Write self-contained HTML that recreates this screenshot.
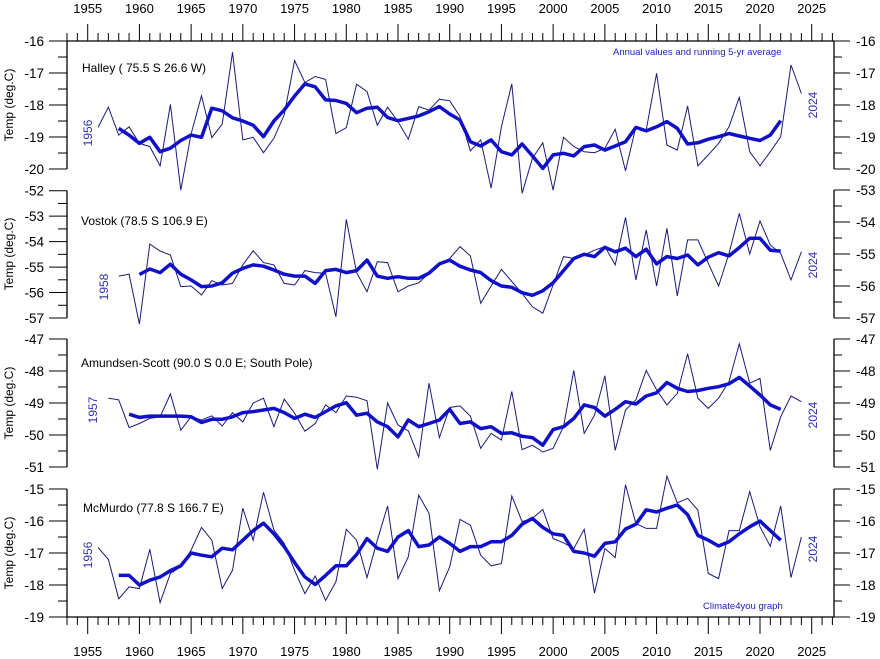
<!DOCTYPE html>
<html><head><meta charset="utf-8">
<style>
html,body{margin:0;padding:0;background:#fff;}
svg{display:block;font-family:"Liberation Sans",Arial,sans-serif;}
</style></head>
<body>
<svg id="chart" width="880" height="659" viewBox="0 0 880 659" xmlns="http://www.w3.org/2000/svg">
<rect x="0" y="0" width="880" height="659" fill="#fff"/>
<g id="axes"></g>
<g id="series"></g>
<text x="613" y="55" font-size="9.5" fill="#2020c0">Annual values and running 5-yr average</text>
<text x="703" y="609" font-size="9.5" fill="#2020c0">Climate4you graph</text>
</svg>
<script>
// ---- data ----
const halleyStart = 1956;
const halleyAnnual = [-18.7,-18.07,-18.94,-18.68,-19.2,-19.3,-19.9,-17.98,-20.66,-18.9,-17.71,-19.02,-18.6,-16.35,-19.09,-19.01,-19.49,-19.04,-18.31,-16.61,-17.3,-17.11,-17.2,-18.89,-18.71,-17.35,-17.58,-18.63,-18.07,-18.52,-19.07,-18.05,-18.16,-17.82,-17.87,-18.36,-19.43,-19.09,-20.6,-18.68,-17.34,-20.76,-19.67,-19.18,-20.66,-19.01,-19.3,-19.46,-19.49,-19.35,-18.76,-20.06,-18.68,-18.78,-17.01,-19.25,-19.41,-18.03,-19.9,-19.56,-19.2,-18.68,-17.76,-19.46,-19.9,-19.46,-18.99,-16.75,-17.64];
const halleyAvgStart = 1958;
const halleyAvg = [-18.73,-18.94,-19.2,-19.01,-19.46,-19.35,-19.11,-18.94,-19.01,-18.1,-18.18,-18.4,-18.5,-18.63,-18.99,-18.5,-18.16,-17.72,-17.34,-17.43,-17.84,-17.86,-17.95,-18.24,-18.1,-18.07,-18.39,-18.49,-18.42,-18.34,-18.21,-18.05,-18.28,-18.47,-19.15,-19.28,-19.09,-19.46,-19.56,-19.22,-19.59,-19.98,-19.56,-19.51,-19.59,-19.3,-19.25,-19.41,-19.28,-19.15,-18.7,-18.81,-18.68,-18.52,-18.73,-19.22,-19.18,-19.07,-18.99,-18.89,-18.97,-19.04,-19.11,-18.94,-18.49];

const vostokStart = 1958;
const vostokAnnual = [-55.69,-55.63,-57.19,-54.69,-54.91,-55.03,-56.02,-56.0,-56.28,-55.83,-55.97,-55.92,-55.34,-54.9,-55.27,-55.34,-55.92,-55.97,-55.52,-55.58,-55.6,-56.96,-53.92,-55.58,-56.18,-55.24,-55.27,-56.18,-56.0,-55.9,-55.6,-55.35,-55.14,-54.77,-55.06,-56.54,-56.0,-55.48,-55.86,-56.23,-56.65,-56.85,-55.97,-55.08,-55.14,-55.03,-54.88,-54.77,-55.34,-53.86,-55.81,-54.25,-56.0,-54.2,-56.31,-54.56,-54.56,-55.29,-56.0,-54.98,-53.73,-55.0,-53.97,-54.72,-54.98,-55.81,-54.93];
const vostokAvgStart = 1960;
const vostokAvg = [-55.64,-55.47,-55.58,-55.32,-55.63,-55.81,-56.02,-56.0,-55.9,-55.6,-55.45,-55.34,-55.38,-55.5,-55.63,-55.69,-55.69,-55.92,-55.52,-55.48,-55.58,-55.52,-55.19,-55.69,-55.76,-55.71,-55.76,-55.76,-55.6,-55.31,-55.19,-55.38,-55.5,-55.58,-55.83,-56.0,-56.04,-56.21,-56.29,-56.15,-55.9,-55.52,-55.14,-55.01,-55.08,-54.79,-54.93,-54.82,-55.08,-54.85,-55.31,-55.08,-55.14,-55.03,-55.34,-55.1,-54.96,-55.06,-54.8,-54.51,-54.51,-54.88,-54.91];

const amundsenStart = 1957;
const amundsenAnnual = [-48.85,-48.9,-49.77,-49.64,-49.48,-49.43,-48.72,-49.85,-49.43,-49.53,-49.4,-49.72,-49.3,-49.59,-49.0,-48.85,-49.74,-48.88,-49.32,-49.88,-49.64,-49.06,-49.3,-48.78,-48.82,-48.93,-51.07,-49.0,-49.69,-49.87,-50.69,-48.38,-50.08,-49.14,-49.09,-49.41,-50.42,-49.95,-50.16,-48.64,-50.46,-50.32,-50.53,-50.42,-49.74,-47.98,-49.95,-49.38,-48.15,-50.48,-49.22,-48.9,-47.98,-48.59,-49.06,-48.7,-47.46,-48.85,-49.17,-48.85,-48.33,-47.15,-48.38,-48.23,-50.48,-49.43,-48.78,-48.96];
const amundsenAvgStart = 1959;
const amundsenAvg = [-49.35,-49.45,-49.41,-49.41,-49.41,-49.41,-49.43,-49.61,-49.51,-49.51,-49.43,-49.3,-49.27,-49.22,-49.17,-49.3,-49.48,-49.35,-49.45,-49.27,-49.09,-48.99,-49.38,-49.32,-49.59,-49.74,-50.06,-49.53,-49.74,-49.64,-49.53,-49.2,-49.64,-49.59,-49.8,-49.74,-49.95,-49.93,-50.04,-50.08,-50.32,-49.83,-49.74,-49.48,-49.06,-49.14,-49.41,-49.2,-48.96,-49.03,-48.78,-48.68,-48.36,-48.54,-48.64,-48.61,-48.54,-48.49,-48.4,-48.2,-48.47,-48.75,-49.06,-49.2];

const mcmurdoStart = 1956;
const mcmurdoAnnual = [-16.83,-17.2,-18.43,-18.06,-18.11,-16.88,-18.55,-17.64,-17.43,-16.91,-16.2,-16.6,-18.11,-17.54,-15.6,-16.6,-15.1,-16.28,-16.7,-17.54,-18.27,-17.72,-18.48,-17.9,-16.26,-16.6,-17.77,-16.6,-15.53,-17.8,-17.12,-15.19,-15.76,-18.18,-17.43,-15.95,-16.13,-17.07,-17.4,-17.33,-15.22,-16.02,-15.92,-15.64,-16.55,-16.68,-16.86,-16.26,-18.25,-16.86,-17.14,-14.87,-16.08,-16.23,-16.23,-14.6,-15.43,-15.29,-15.66,-17.64,-17.8,-16.3,-16.3,-15.08,-16.18,-16.79,-15.53,-17.77,-16.5];
const mcmurdoAvgStart = 1958;
const mcmurdoAvg = [-17.7,-17.7,-18.0,-17.85,-17.75,-17.55,-17.4,-17.0,-17.07,-17.12,-16.85,-16.9,-16.6,-16.3,-16.07,-16.4,-16.8,-17.3,-17.75,-17.98,-17.7,-17.4,-17.4,-17.05,-16.55,-16.85,-16.95,-16.5,-16.3,-16.8,-16.75,-16.5,-16.7,-16.95,-16.8,-16.8,-16.65,-16.65,-16.45,-16.1,-15.92,-16.2,-16.4,-16.45,-16.95,-17.0,-17.1,-16.7,-16.65,-16.25,-16.1,-15.65,-15.72,-15.6,-15.5,-15.8,-16.45,-16.6,-16.78,-16.65,-16.4,-16.18,-16.0,-16.3,-16.6];

const yearTickLabels = [1955,1960,1965,1970,1975,1980,1985,1990,1995,2000,2005,2010,2015,2020,2025];
const stationNames = ["Halley ( 75.5 S 26.6 W)","Vostok (78.5 S 106.9 E)","Amundsen-Scott (90.0 S 0.0 E; South Pole)","McMurdo (77.8 S 166.7 E)"];

// ---- layout ----
const NS = "http://www.w3.org/2000/svg";
const X0 = 67, X1 = 834;
function xScale(yr){ return 87.7 + (yr - 1955) * 10.343; }
const panels = [
  {key:"halley", top:41, bot:169, vTop:-16, vBot:-20, ann:halleyAnnual, annStart:halleyStart, avg:halleyAvg, avgStart:halleyAvgStart, name:stationNames[0], nameX:82, nameY:72, startLbl:"1956", sx:92, sy:133, leftTicks:[-16,-17,-18,-19,-20], leftTop:41, leftBot:169},
  {key:"vostok", top:190, bot:318, vTop:-53, vBot:-57, ann:vostokAnnual, annStart:vostokStart, avg:vostokAvg, avgStart:vostokAvgStart, name:stationNames[1], nameX:81, nameY:225, startLbl:"1958", sx:108, sy:287, leftTicks:[-52,-53,-54,-55,-56,-57], leftTop:190.7, leftBot:318},
  {key:"amundsen", top:339, bot:467, vTop:-47, vBot:-51, ann:amundsenAnnual, annStart:amundsenStart, avg:amundsenAvg, avgStart:amundsenAvgStart, name:stationNames[2], nameX:81, nameY:367, startLbl:"1957", sx:97, sy:410, leftTicks:[-47,-48,-49,-50,-51], leftTop:339, leftBot:467},
  {key:"mcmurdo", top:489, bot:617, vTop:-15, vBot:-19, ann:mcmurdoAnnual, annStart:mcmurdoStart, avg:mcmurdoAvg, avgStart:mcmurdoAvgStart, name:stationNames[3], nameX:83, nameY:512, startLbl:"1956", sx:92, sy:555, leftTicks:[-15,-16,-17,-18,-19], leftTop:489, leftBot:617}
];
const axes = document.getElementById('axes');
const ser = document.getElementById('series');
function mk(tag, attrs, parent, txt){
  const e = document.createElementNS(NS, tag);
  for (const k in attrs) e.setAttribute(k, attrs[k]);
  if (txt !== undefined) e.textContent = txt;
  parent.appendChild(e);
  return e;
}
// top & bottom horizontal axes
let l = mk('line',{x1:X0,y1:41,x2:X1,y2:41,stroke:'#000','stroke-width':1.3},axes);


l = mk('line',{x1:X0,y1:617,x2:X1,y2:617,stroke:'#000','stroke-width':1.3},axes);


for (let yr = 1953; yr <= 2027; yr++){
  const x = xScale(yr);
  const major = yr % 5 === 0;
  let t = mk('line',{x1:x,y1:41,x2:x,y2:major?24:33,stroke:'#000','stroke-width':1},axes);
  
  
  t = mk('line',{x1:x,y1:617,x2:x,y2:major?634:625,stroke:'#000','stroke-width':1},axes);
  
  
}
yearTickLabels.forEach(yr=>{
  const x = xScale(yr);
  let t = mk('text',{x:x,y:13,'font-size':13,'text-anchor':'middle',fill:'#000'},axes,String(yr));
  
  
  t = mk('text',{x:x,y:656,'font-size':13,'text-anchor':'middle',fill:'#000'},axes,String(yr));
  
  
});

panels.forEach(p=>{
  const yS = v => p.top + (p.vTop - v) / (p.vTop - p.vBot) * (p.bot - p.top);
  // left axis
  let a = mk('line',{x1:X0,y1:p.leftTop,x2:X0,y2:p.leftBot,stroke:'#000','stroke-width':1.3},axes);
  
  
  const n = p.leftTicks.length;
  const step = (p.leftBot - p.leftTop) / (n - 1);
  p.leftTicks.forEach((v,i)=>{
    const y = p.leftTop + i * step;
    let t = mk('line',{x1:X0,y1:y,x2:49,y2:y,stroke:'#000','stroke-width':1},axes);
    
    
    t = mk('text',{x:44,y:y+5,'font-size':13.5,'text-anchor':'end',fill:'#000'},axes,String(v));
    
    
    if (i < n - 1){
      t = mk('line',{x1:X0,y1:y+step/2,x2:58,y2:y+step/2,stroke:'#000','stroke-width':1},axes);
      
      
    }
  });
  // right axis
  a = mk('line',{x1:X1,y1:p.top,x2:X1,y2:p.bot,stroke:'#000','stroke-width':1.3},axes);
  
  
  for (let v = p.vTop; v >= p.vBot; v--){
    const y = yS(v);
    let t = mk('line',{x1:X1,y1:y,x2:850,y2:y,stroke:'#000','stroke-width':1},axes);
    
    
    t = mk('text',{x:856,y:y+5,'font-size':13.5,fill:'#000'},axes,String(v));
    
    
    if (v > p.vBot){
      t = mk('line',{x1:X1,y1:yS(v-0.5),x2:842,y2:yS(v-0.5),stroke:'#000','stroke-width':1},axes);
      
      
    }
  }
  // y-axis title
  const cy = (p.top + p.bot) / 2;
  let tt = mk('text',{x:0,y:0,'font-size':12,'text-anchor':'middle',fill:'#000',transform:'translate(13,'+cy+') rotate(-90)'},axes,'Temp (deg.C)');
  
  
  // station title
  tt = mk('text',{x:p.nameX,y:p.nameY,'font-size':12,fill:'#000'},axes,p.name);
  
  
  // start/end year labels
  tt = mk('text',{x:0,y:0,'font-size':12,'text-anchor':'middle',fill:'#3030b0',transform:'translate('+p.sx+','+p.sy+') rotate(-90)'},axes,p.startLbl);
  
  
  const ey = [105,265,415,549][panels.indexOf(p)];
  tt = mk('text',{x:0,y:0,'font-size':12,'text-anchor':'middle',fill:'#3030b0',transform:'translate(817,'+ey+') rotate(-90)'},axes,'2024');
  
  
  // annual line
  const annPts = p.ann.map((v,i)=> xScale(p.annStart + i).toFixed(1) + ',' + yS(v).toFixed(1)).join(' ');
  let pl = mk('polyline',{points:annPts,fill:'none',stroke:'#1a1a7a','stroke-width':1,'stroke-linejoin':'miter'},ser);
  
  
  const avgPts = p.avg.map((v,i)=> xScale(p.avgStart + i).toFixed(1) + ',' + yS(v).toFixed(1)).join(' ');
  pl = mk('polyline',{points:avgPts,fill:'none',stroke:'#1010c8','stroke-width':3.5,'stroke-linejoin':'round'},ser);
  
  
});
</script>
</body></html>
